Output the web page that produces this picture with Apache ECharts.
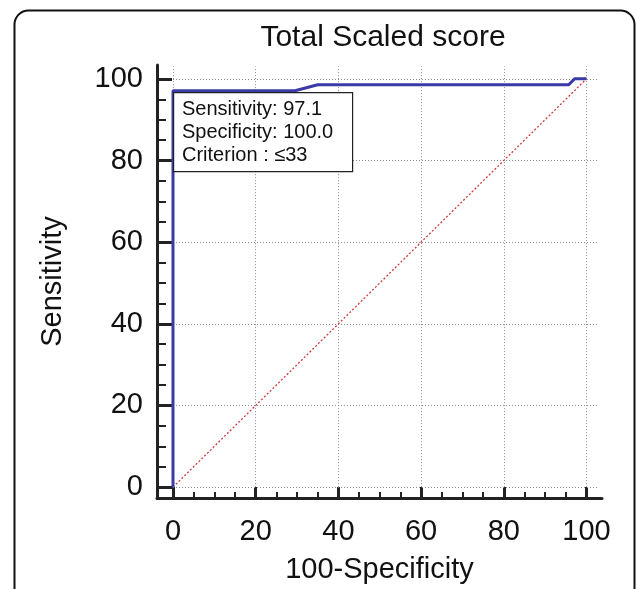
<!DOCTYPE html>
<html>
<head>
<meta charset="utf-8">
<script src="https://cdn.jsdelivr.net/npm/echarts@6/dist/echarts.min.js"></script>
<style>
html,body{margin:0;padding:0;background:#fff;}
#c{width:637px;height:589px;}
</style>
</head>
<body>
<div id="c"></div>
<script>
// ROC curve points: [100-Specificity, Sensitivity]
var rocX = [0, 0, 29.5, 35, 95.7, 97.1, 100];
var rocY = [0, 97.1, 97.1, 98.55, 98.55, 100, 100];
var diagX = [0, 100];
var diagY = [0, 100];
var majorTicks = [0, 20, 40, 60, 80, 100];
var minorTicks = [5, 10, 15, 25, 30, 35, 45, 50, 55, 65, 70, 75, 85, 90, 95];
var titleText = 'Total Scaled score';
var xName = '100-Specificity';
var yName = 'Sensitivity';
var infoLines = ['Sensitivity: 97.1', 'Specificity: 100.0', 'Criterion : \u226433'];
// axis frame extends a little past the 0..100 data range
var xRange = [-3.87, 103.75];
var yRange = [-2.66, 103.39];
var gridEnd = 103; // dotted gridlines run a bit past 100

var FONT = '"Liberation Sans", Arial, sans-serif';
var chart = echarts.init(document.getElementById('c'), null, {renderer: 'canvas'});

function pairs(xs, ys) { return xs.map(function (x, i) { return [x, ys[i]]; }); }

var gridMarks = [];
majorTicks.forEach(function (v) {
  gridMarks.push([{coord: [v, 0]}, {coord: [v, gridEnd]}]);
  gridMarks.push([{coord: [0, v]}, {coord: [gridEnd, v]}]);
});

var axisLineStyle = {show: true, onZero: false, lineStyle: {color: '#222', width: 3}};
var labelStyle = {fontFamily: FONT, fontSize: 29, color: '#111'};

var option = {
  animation: false,
  title: {
    text: titleText,
    left: 378, top: 18, textAlign: 'center',
    textStyle: {fontFamily: FONT, fontSize: 30, fontWeight: 'normal', color: '#111'}
  },
  grid: {left: 157, right: 35, top: 65, bottom: 86},
  xAxis: [
    {
      type: 'value', min: xRange[0], max: xRange[1], position: 'bottom',
      name: xName, nameLocation: 'middle', nameGap: 57,
      nameTextStyle: labelStyle,
      axisLine: axisLineStyle,
      axisTick: {show: true, inside: true, length: 11, customValues: majorTicks,
                 lineStyle: {color: '#222', width: 3}},
      axisLabel: Object.assign({customValues: majorTicks, margin: 19}, labelStyle),
      splitLine: {show: false}
    },
    {
      type: 'value', min: xRange[0], max: xRange[1], position: 'bottom',
      axisLine: {show: false, onZero: false},
      axisTick: {show: true, inside: true, length: 6, customValues: minorTicks,
                 lineStyle: {color: '#222', width: 2}},
      axisLabel: {show: false}, splitLine: {show: false}
    }
  ],
  yAxis: [
    {
      type: 'value', min: yRange[0], max: yRange[1], position: 'left',
      name: yName, nameLocation: 'middle', nameGap: 90, nameRotate: 90,
      nameTextStyle: labelStyle,
      axisLine: axisLineStyle,
      axisTick: {show: true, inside: true, length: 15, customValues: majorTicks,
                 lineStyle: {color: '#222', width: 3}},
      axisLabel: Object.assign({customValues: majorTicks, margin: 14}, labelStyle),
      splitLine: {show: false}
    },
    {
      type: 'value', min: yRange[0], max: yRange[1], position: 'left',
      axisLine: {show: false, onZero: false},
      axisTick: {show: true, inside: true, length: 9, customValues: minorTicks,
                 lineStyle: {color: '#222', width: 2}},
      axisLabel: {show: false}, splitLine: {show: false}
    }
  ],
  series: [
    {
      type: 'line', xAxisIndex: 0, yAxisIndex: 0,
      data: pairs(diagX, diagY), symbol: 'none', silent: true,
      lineStyle: {color: '#d03c3c', width: 1.3, type: [2, 2]},
      z: 3,
      markLine: {
        silent: true, symbol: 'none', label: {show: false},
        lineStyle: {color: '#8c8c8c', width: 1, type: [1, 2]},
        data: gridMarks, z: 1
      }
    },
    {
      type: 'line', xAxisIndex: 0, yAxisIndex: 0,
      data: pairs(rocX, rocY), symbol: 'none',
      lineStyle: {color: '#3b3ba8', width: 3}, z: 4
    }
  ],
  graphic: [
    {
      type: 'rect', left: 12, top: 8, z: 0, silent: true,
      shape: {width: 620, height: 620, r: 14},
      style: {fill: 'none', stroke: '#111', lineWidth: 2}
    },
    {
      type: 'rect', left: 173, top: 92, z: 10,
      shape: {width: 179, height: 79},
      style: {fill: '#fff', stroke: '#222', lineWidth: 1.2}
    },
    {
      type: 'text', left: 182, top: 98, z: 11,
      style: {text: infoLines.join('\n'), font: '20px ' + FONT, fill: '#111', lineHeight: 23}
    }
  ]
};
chart.setOption(option);
</script>
</body>
</html>
